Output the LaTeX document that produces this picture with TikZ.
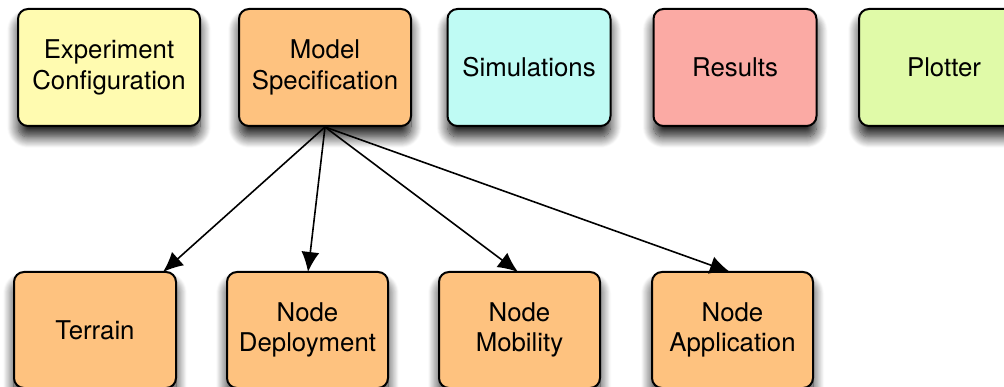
\documentclass[tikz,border=0pt]{standalone}
\usepackage{fontspec}
\setmainfont{TeX Gyre Heros}
\usetikzlibrary{arrows.meta,shadows.blur,calc}
\definecolor{cyellow}{HTML}{FFFBB0}
\definecolor{corange}{HTML}{FEC27F}
\definecolor{ccyan}{HTML}{BFFBF4}
\definecolor{cred}{HTML}{FBAAA4}
\definecolor{cgreen}{HTML}{E0FAA8}
\tikzset{
  box/.style={draw=black, line width=2pt, rounded corners=10pt, align=center,
    minimum height=117pt, inner sep=0pt,
    font=\fontsize{25.8}{30.5}\selectfont,
    blur shadow={shadow xshift=0pt, shadow yshift=-11pt, shadow blur steps=15,
      shadow blur radius=11pt, shadow blur extra rounding=6pt, shadow opacity=90}},
  link/.style={line width=1.6pt, -{Latex[length=20pt,width=18pt]}}
}
\begin{document}
\begin{tikzpicture}[x=1pt,y=-1pt]
\useasboundingbox (0,0) rectangle (1004,387);
\clip (0,0) rectangle (1004,387);
\node[box, fill=cyellow, minimum width=182pt] (exp) at (109,67.5) {Experiment\\Configuration};
\node[box, fill=corange, minimum width=172pt] (model) at (325,67.5) {Model\\Specification};
\node[box, fill=ccyan, minimum width=163pt] (sim) at (529,67.5) {Simulations};
\node[box, fill=cred, minimum width=163pt] (res) at (735,67.5) {Results};
\node[box, fill=cgreen, minimum width=170pt] (plot) at (944,67.5) {Plotter};
\node[box, fill=corange, minimum width=162pt, minimum height=116pt] (terrain) at (95,330) {Terrain};
\node[box, fill=corange, minimum width=161pt, minimum height=116pt] (deploy) at (307.5,330) {Node\\Deployment};
\node[box, fill=corange, minimum width=161pt, minimum height=116pt] (mob) at (519.5,330) {Node\\Mobility};
\node[box, fill=corange, minimum width=161pt, minimum height=116pt] (app) at (732.5,330) {Node\\Application};
\draw[link] (model.south) -- ([xshift=68pt,yshift=-1pt]terrain.north);
\draw[link] (model.south) -- ([xshift=0.5pt,yshift=-1pt]deploy.north);
\draw[link] (model.south) -- ([xshift=-1.5pt,yshift=-1pt]mob.north);
\draw[link] (model.south) -- ([xshift=-2.5pt,yshift=-1pt]app.north);
\end{tikzpicture}
\end{document}
